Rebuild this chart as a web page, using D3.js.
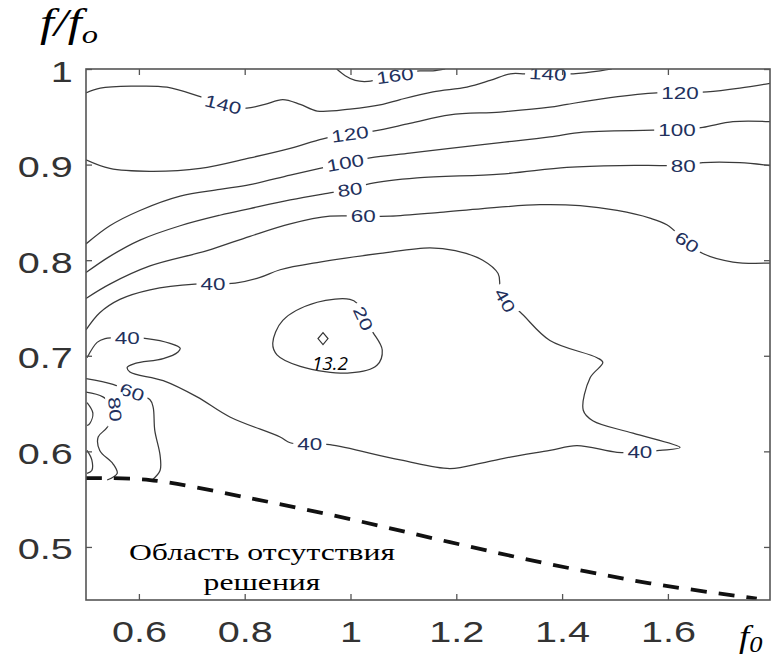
<!DOCTYPE html>
<html>
<head>
<meta charset="utf-8">
<script src="https://cdn.jsdelivr.net/npm/d3@7"></script>
<style>
  body { margin: 0; background: #fff; }
</style>
</head>
<body>
<svg id="chart" width="773" height="657"></svg>
<script>
// Axis settings
const xDomain = [0.5, 1.793];
const yDomain = [0.4445, 1];
const xTicks = [0.6, 0.8, 1, 1.2, 1.4, 1.6];
const yTicks = [0.5, 0.6, 0.7, 0.8, 0.9, 1];

// Contour polylines, [f0, f/f0]
const c160 = [[0.974,1.0],[0.990,0.993],[1.009,0.988],[1.033,0.987],[1.084,0.994],[1.131,0.998],[1.156,0.998],[1.179,1.0]];
const c140 = [[0.5,0.975],[0.527,0.980],[0.589,0.982],[0.653,0.981],[0.716,0.971],[0.759,0.963],[0.804,0.959],[0.838,0.963],[0.872,0.968],[0.905,0.963],[0.937,0.956],[0.999,0.958],[1.061,0.963],[1.094,0.968],[1.156,0.976],[1.220,0.981],[1.264,0.988],[1.302,0.995],[1.330,0.995],[1.373,0.995],[1.421,0.995],[1.472,0.998],[1.494,1.0]];
const c120 = [[0.5,0.905],[0.545,0.896],[0.621,0.893],[0.716,0.896],[0.810,0.907],[0.886,0.917],[0.948,0.927],[0.999,0.932],[1.043,0.935],[1.112,0.943],[1.188,0.952],[1.283,0.955],[1.377,0.960],[1.409,0.963],[1.491,0.970],[1.579,0.975],[1.623,0.975],[1.674,0.976],[1.736,0.980],[1.793,0.985]];
const c100 = [[0.5,0.817],[0.545,0.836],[0.602,0.852],[0.678,0.867],[0.753,0.874],[0.810,0.879],[0.886,0.889],[0.942,0.896],[0.990,0.902],[1.037,0.907],[1.112,0.912],[1.188,0.917],[1.283,0.923],[1.377,0.929],[1.440,0.934],[1.572,0.936],[1.617,0.936],[1.666,0.939],[1.723,0.945],[1.793,0.945]];
const c80 = [[0.5,0.787],[0.545,0.804],[0.602,0.821],[0.678,0.836],[0.753,0.847],[0.810,0.854],[0.886,0.863],[0.956,0.870],[0.999,0.874],[1.037,0.880],[1.126,0.886],[1.283,0.890],[1.409,0.897],[1.509,0.899],[1.585,0.899],[1.629,0.899],[1.666,0.902],[1.736,0.902],[1.793,0.899]];
const c60 = [[0.5,0.760],[0.545,0.775],[0.621,0.794],[0.729,0.810],[0.810,0.825],[0.886,0.838],[0.961,0.846],[1.024,0.846],[1.075,0.846],[1.169,0.850],[1.250,0.854],[1.358,0.858],[1.434,0.857],[1.504,0.852],[1.566,0.844],[1.598,0.837],[1.636,0.819],[1.666,0.807],[1.723,0.798],[1.793,0.797]];
const c40 = [[0.5,0.727],[0.526,0.745],[0.564,0.759],[0.621,0.769],[0.706,0.775],[0.740,0.775],[0.782,0.776],[0.829,0.782],[0.867,0.790],[0.942,0.798],[1.056,0.807],[1.150,0.813],[1.198,0.810],[1.250,0.800],[1.279,0.786],[1.283,0.772],[1.292,0.758],[1.320,0.746],[1.377,0.716],[1.466,0.698],[1.477,0.693],[1.453,0.677],[1.440,0.643],[1.458,0.632],[1.534,0.619],[1.623,0.604],[1.585,0.601],[1.547,0.599],[1.504,0.599],[1.428,0.606],[1.377,0.601],[1.302,0.594],[1.250,0.588],[1.188,0.582],[1.094,0.591],[0.961,0.607],[0.923,0.608],[0.886,0.609],[0.867,0.615],[0.772,0.636],[0.710,0.657],[0.646,0.674],[0.583,0.683],[0.578,0.688],[0.593,0.692],[0.646,0.697],[0.674,0.704],[0.678,0.708],[0.659,0.713],[0.615,0.718],[0.578,0.719],[0.536,0.718],[0.521,0.714],[0.502,0.698]];
const c20 = [[1.024,0.739],[1.043,0.724],[1.060,0.706],[1.050,0.690],[0.999,0.682],[0.905,0.689],[0.861,0.701],[0.853,0.713],[0.872,0.737],[0.937,0.756],[0.999,0.759],[1.012,0.755]];
const c60low = [[0.5,0.676],[0.551,0.670],[0.587,0.662],[0.621,0.654],[0.627,0.646],[0.630,0.622],[0.640,0.596],[0.640,0.580],[0.625,0.570]];
const c80low = [[0.5,0.662],[0.532,0.657],[0.555,0.644],[0.540,0.625],[0.523,0.615],[0.526,0.601],[0.551,0.587],[0.559,0.577],[0.540,0.570]];
const c100low = [[0.502,0.651],[0.513,0.640],[0.507,0.629],[0.502,0.627]];
const c120low = [[0.502,0.601],[0.511,0.591],[0.511,0.580],[0.502,0.577]];

const openLines = [c160, c140, c120, c100, c80, c60, c40, c60low, c80low, c100low, c120low];
const closedLines = [c20];

// Inline contour labels: value, position, rotation (deg)
const labelValues = [160, 140, 140, 120, 120, 100, 100, 80, 80, 60, 60, 40, 40, 40, 40, 40, 60, 80, 20];
const labelPoints = [[1.084,0.993],[0.759,0.963],[1.373,0.995],[0.999,0.932],[1.623,0.975],[0.990,0.902],[1.617,0.936],[0.999,0.874],[1.629,0.899],[1.024,0.846],[1.636,0.819],[0.740,0.775],[1.292,0.758],[0.923,0.608],[1.547,0.599],[0.578,0.719],[0.587,0.662],[0.555,0.644],[1.024,0.739]];
const labelAngles = [-8, 14, 3, -8, 0, -10, 0, -8, 0, 0, 35, 0, 60, 0, 0, 0, 20, 85, 65];

// Boundary of the region without a solution
const boundary = [[0.5,0.572],[0.621,0.570],[0.810,0.551],[1.0,0.529],[1.188,0.505],[1.377,0.482],[1.566,0.462],[1.768,0.446]];

// Minimum point
const minPoint = [0.948, 0.718];
const minValue = 13.2;

const svg = d3.select("#chart");
const W = 773, H = 657;
const mLeft = 86, mRight = 770, mTop = 69, mBottom = 600;
const stretch = 1.32;

const x = d3.scaleLinear().domain(xDomain).range([mLeft, mRight]);
const y = d3.scaleLinear().domain(yDomain).range([mBottom, mTop]);

svg.append("rect").attr("width", W).attr("height", H).attr("fill", "#fff");

svg.append("defs").append("clipPath").attr("id", "plotClip")
  .append("rect").attr("x", mLeft).attr("y", mTop).attr("width", mRight - mLeft).attr("height", mBottom - mTop);

const plot = svg.append("g").attr("clip-path", "url(#plotClip)");

const line = d3.line().x(d => x(d[0])).y(d => y(d[1])).curve(d3.curveCatmullRom.alpha(0.5));
const closedLine = d3.line().x(d => x(d[0])).y(d => y(d[1])).curve(d3.curveCatmullRomClosed.alpha(0.5));

plot.selectAll("path.c-open").data(openLines).join("path")
  .attr("class", "c-open")
  .attr("d", line)
  .attr("fill", "none").attr("stroke", "#3a3a3a").attr("stroke-width", 1.25);

plot.selectAll("path.c-closed").data(closedLines).join("path")
  .attr("class", "c-closed")
  .attr("d", closedLine)
  .attr("fill", "none").attr("stroke", "#3a3a3a").attr("stroke-width", 1.25);

// dashed boundary
plot.append("path").datum(boundary)
  .attr("d", d3.line().x(d => x(d[0])).y(d => y(d[1])).curve(d3.curveCatmullRom.alpha(0.5)))
  .attr("fill", "none").attr("stroke", "#111").attr("stroke-width", 3.8)
  .attr("stroke-dasharray", "16,12");

// contour labels
const lbl = plot.selectAll("g.clabel").data(labelValues).join("g")
  .attr("class", "clabel")
  .attr("transform", (d, i) => `translate(${x(labelPoints[i][0])},${y(labelPoints[i][1])}) rotate(${labelAngles[i]})`);
lbl.append("rect").attr("fill", "#fff");
lbl.append("text")
  .attr("text-anchor", "middle").attr("dy", "0.36em")
  .attr("transform", `scale(${stretch},1)`)
  .attr("font-family", "Liberation Sans, Arial, sans-serif")
  .attr("font-size", 17).attr("fill", "#22305c")
  .text(d => d);
lbl.each(function() {
  const g = d3.select(this);
  const w = g.select("text").node().getComputedTextLength() * stretch + 8;
  g.select("rect").attr("x", -w / 2).attr("y", -9).attr("width", w).attr("height", 18);
});

// minimum marker
const mx = x(minPoint[0]), my = y(minPoint[1]);
svg.append("path")
  .attr("d", `M${mx},${my - 6}L${mx + 5},${my}L${mx},${my + 6}L${mx - 5},${my}Z`)
  .attr("fill", "none").attr("stroke", "#333").attr("stroke-width", 1.2);
svg.append("text").attr("x", mx + 7).attr("y", my + 31)
  .attr("text-anchor", "middle")
  .attr("font-family", "Open Sans, sans-serif").attr("font-style", "italic")
  .attr("font-size", 19).attr("fill", "#000")
  .text(minValue);

// region note
const note = svg.append("g").attr("transform", "translate(262,0)");
note.append("text").attr("y", 560).attr("text-anchor", "middle")
  .attr("transform", `scale(${stretch},1)`)
  .attr("font-family", "Liberation Serif, Times New Roman, serif").attr("font-size", 24)
  .text("Область отсутствия");
note.append("text").attr("y", 590).attr("text-anchor", "middle")
  .attr("transform", `scale(${stretch},1)`)
  .attr("font-family", "Liberation Serif, Times New Roman, serif").attr("font-size", 24)
  .text("решения");

// axes
const tickFont = g => g.selectAll("text")
  .attr("font-family", "Liberation Sans, Arial, sans-serif")
  .attr("font-size", 30).attr("fill", "#333")
  .attr("transform", `scale(${stretch},1)`);

const gx = svg.append("g").attr("transform", `translate(0,${mBottom})`)
  .call(d3.axisBottom(x).tickValues(xTicks).tickSizeInner(-6).tickSizeOuter(0).tickPadding(21).tickFormat(d3.format("")));
gx.call(tickFont);
const gxTop = svg.append("g").attr("transform", `translate(0,${mTop})`)
  .call(d3.axisTop(x).tickValues(xTicks).tickSizeInner(-6).tickSizeOuter(0).tickFormat(""));
const gy = svg.append("g").attr("transform", `translate(${mLeft},0)`)
  .call(d3.axisLeft(y).tickValues(yTicks).tickSizeInner(-6).tickSizeOuter(0).tickPadding(10).tickFormat(d3.format("")));
gy.call(tickFont);
gy.selectAll("text").attr("dy", "0.4em");
const gyRight = svg.append("g").attr("transform", `translate(${mRight},0)`)
  .call(d3.axisRight(y).tickValues(yTicks).tickSizeInner(-6).tickSizeOuter(0).tickFormat(""));

[gx, gxTop, gy, gyRight].forEach(g => {
  g.select(".domain").remove();
  g.selectAll(".tick line").attr("stroke", "#555").attr("stroke-width", 1.3);
});

// frame
svg.append("rect").attr("x", mLeft).attr("y", mTop).attr("width", mRight - mLeft).attr("height", mBottom - mTop)
  .attr("fill", "none").attr("stroke", "#555").attr("stroke-width", 1.6);

// axis titles
const yTitle = svg.append("text")
  .attr("transform", "translate(40,36) scale(1.25,1)")
  .attr("font-family", "Liberation Serif, Times New Roman, serif").attr("font-style", "italic")
  .attr("font-size", 40).attr("fill", "#000");
yTitle.append("tspan").text("f/f");
yTitle.append("tspan").attr("font-size", 26).attr("dy", 7).text("o");

const xTitle = svg.append("text")
  .attr("transform", "translate(739,647) scale(1.15,1)")
  .attr("font-family", "Liberation Serif, Times New Roman, serif").attr("font-style", "italic")
  .attr("font-size", 32).attr("fill", "#000");
xTitle.append("tspan").text("f");
xTitle.append("tspan").attr("font-size", 23).attr("dy", 5).text("0");
</script>
</body>
</html>
